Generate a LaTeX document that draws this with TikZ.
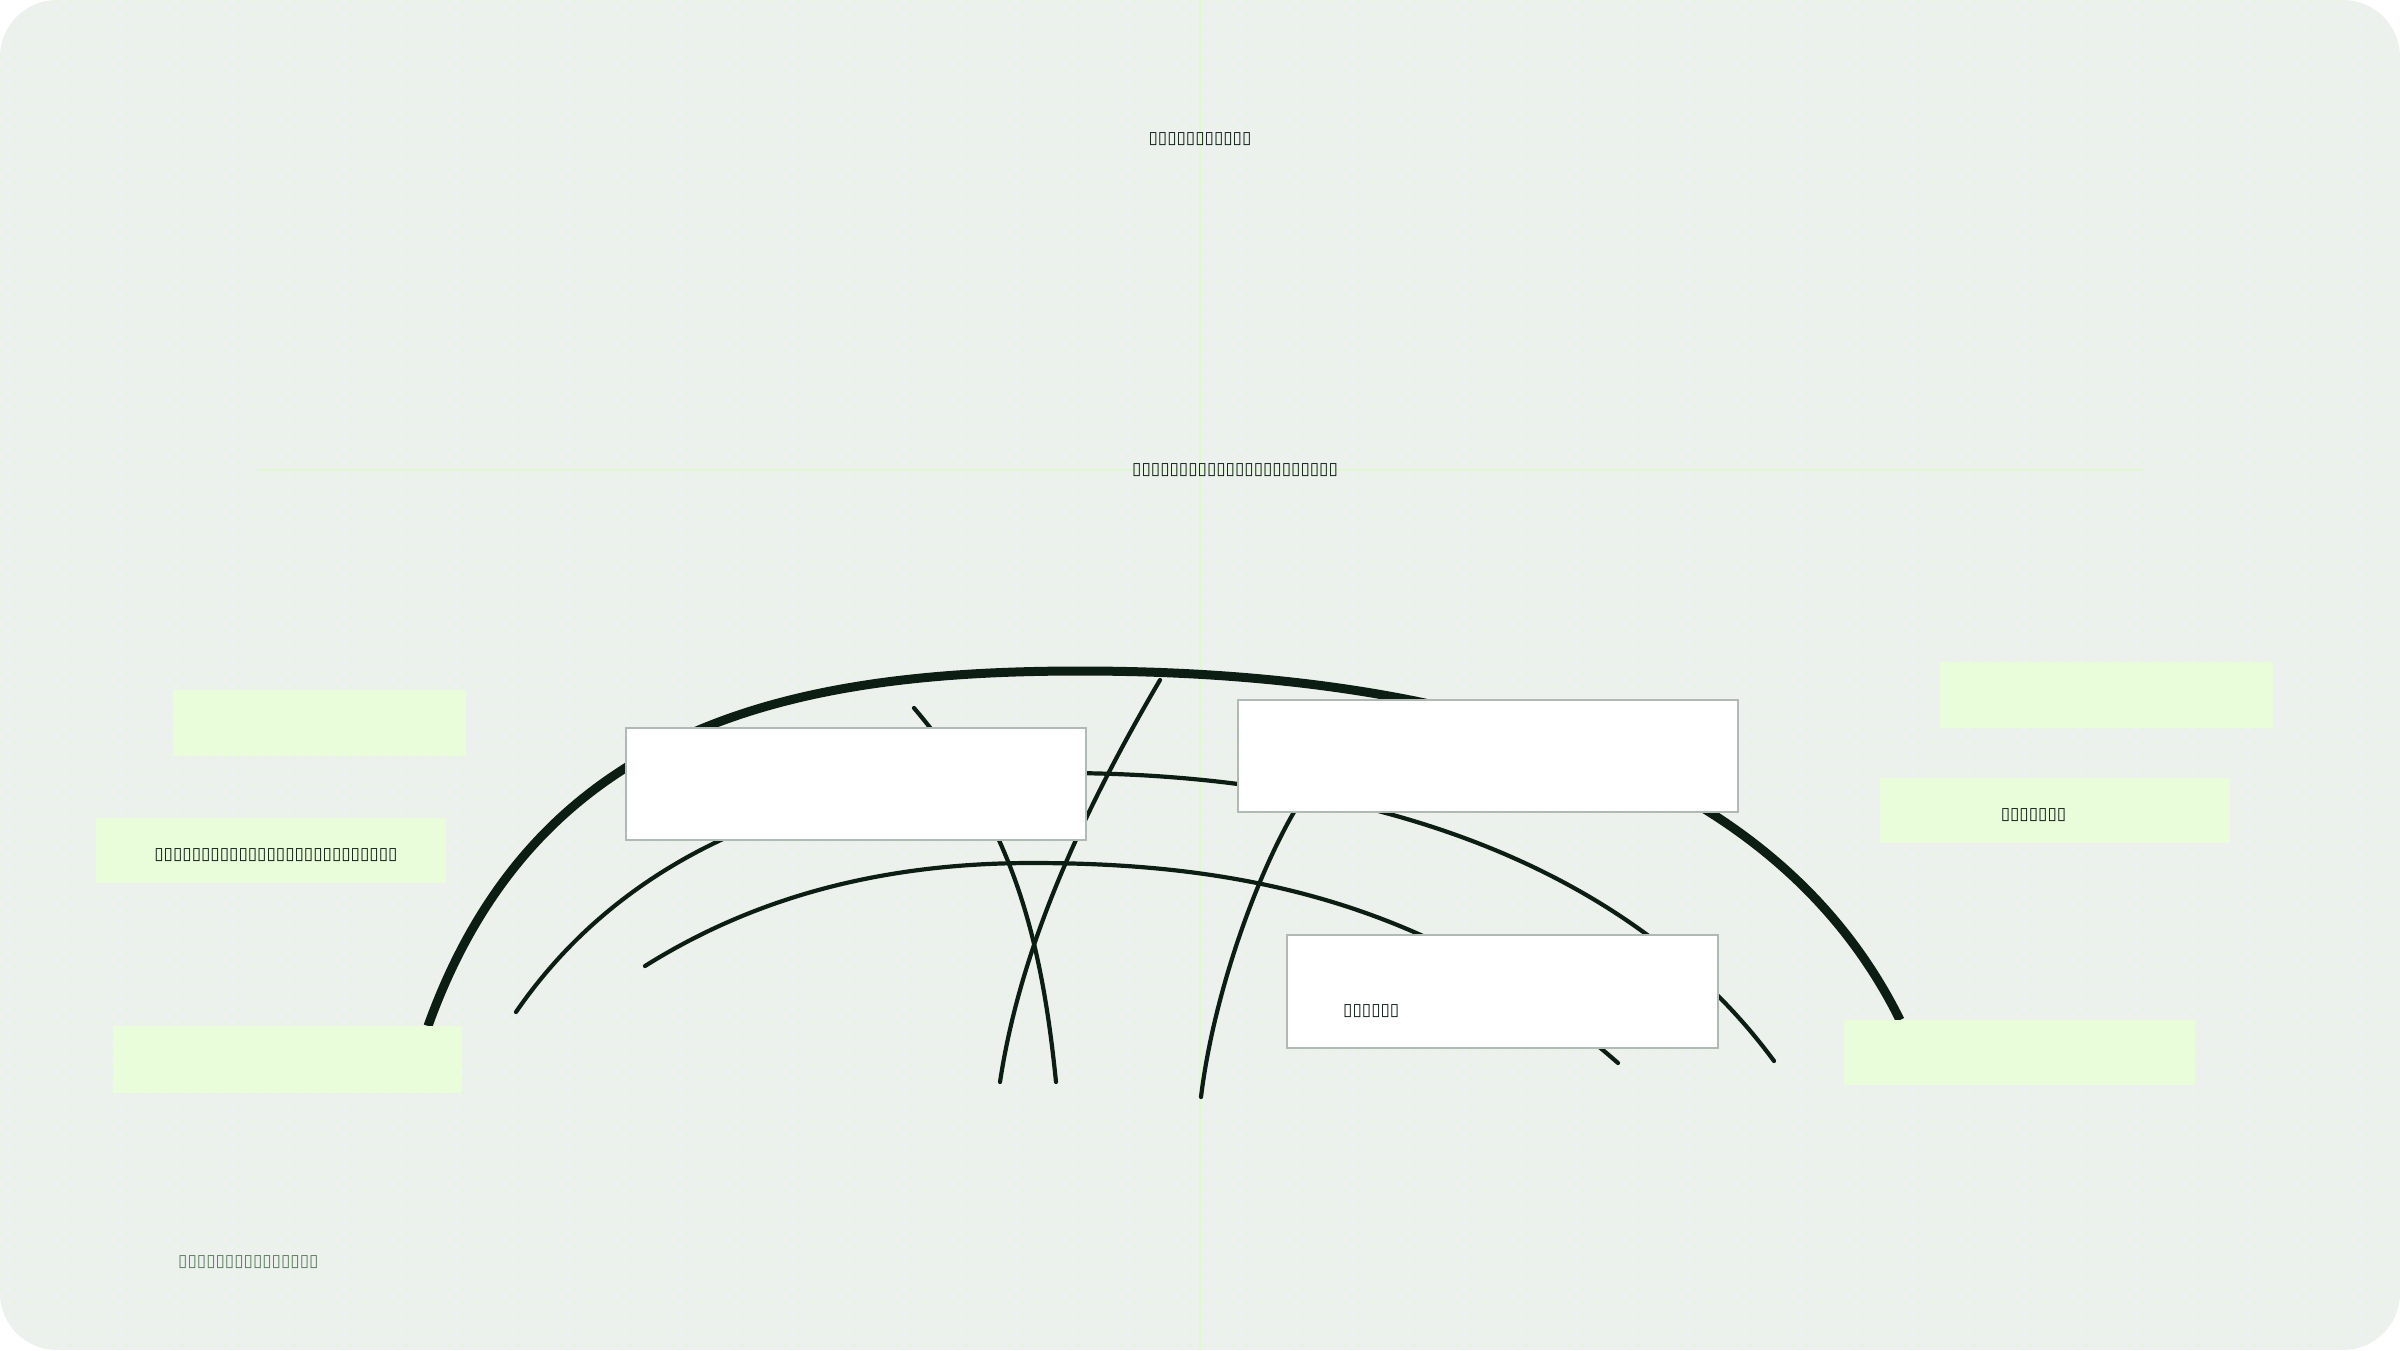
\documentclass[tikz,border=0pt]{standalone}
\usepackage{fontspec}
\setmainfont{DejaVu Sans}
\usetikzlibrary{positioning}

\definecolor{paper}{HTML}{EDF1EE}
\definecolor{dotgreen}{HTML}{E1F6D2}
\definecolor{guide}{HTML}{E0F8CE}
\definecolor{lime}{HTML}{EAFDDA}
\definecolor{ink}{HTML}{0C1D14}
\definecolor{frame}{HTML}{B1B9B5}
\definecolor{mute}{HTML}{587A5C}

\tikzset{
  limebox/.style={fill=lime, inner sep=0pt},
  whitebox/.style={fill=white, draw=frame, line width=2pt, inner sep=0pt},
  tofu/.style={text=ink, font=\fontsize{17}{19}\selectfont, inner sep=0pt},
  band/.style={draw=ink, line width=4.2pt, line cap=round},
}

\begin{document}
\begin{tikzpicture}[x=1pt, y=-1pt]
\useasboundingbox (0,0) rectangle (2400,1350);
\fill[white] (0,0) rectangle (2400,1350);
\fill[paper, rounded corners=57pt] (0,0) rectangle (2400,1350);
% dot grid
\begin{scope}
\clip[rounded corners=57pt] (0,0) rectangle (2400,1350);
\foreach \y in {0, 14, ..., 1350} {
  \draw[dotgreen, line width=2pt, dash pattern=on 2pt off 12pt] (0.3, \y+1.3) -- (2400, \y+1.3);
}
\end{scope}
% guides
\draw[guide, line width=1.5pt] (1200,0) -- (1200,1350);
\draw[guide, line width=1.5pt] (257,470) -- (2143,470);
\node[tofu] (title) at (1200,139) {▯▯▯▯▯▯▯▯▯▯▯};
\node[tofu, anchor=west] (subtitle) at (1132,470) {▯▯▯▯▯▯▯▯▯▯▯▯▯▯▯▯▯▯▯▯▯▯};
% outer band
\draw[band, line width=9pt, line cap=butt] (428,1026)
  .. controls (536,725) and (790,671) .. (1080,671)
  .. controls (1430,671) and (1767,751) .. (1900,1020);
% middle bands
\draw[band] (516,1012)
  .. controls (624,855) and (810,773) .. (1060,773)
  .. controls (1360,773) and (1626,860) .. (1774,1061);
\draw[band] (645,966)
  .. controls (755,897) and (882,863) .. (1032,863)
  .. controls (1232,863) and (1430,898) .. (1618,1063);
% crossing spokes
\draw[band] (914,708) .. controls (1011,822) and (1041,933) .. (1056,1082);
\draw[band] (1160,680) .. controls (1069,835) and (1018,963) .. (1000,1082);
\draw[band] (1305,793) -- (1294,812) .. controls (1254,881) and (1213,998) .. (1201,1097);
% left boxes
\node[limebox, minimum width=293pt, minimum height=66pt] (leftA) at (319.5,723) {};
\node[limebox, minimum width=350pt, minimum height=65pt] (leftB) at (271,850.5) {};
\node[tofu] (leftBtext) at (276,855) {▯▯▯▯▯▯▯▯▯▯▯▯▯▯▯▯▯▯▯▯▯▯▯▯▯▯};
\node[limebox, minimum width=349pt, minimum height=67pt] (leftC) at (287.5,1059.5) {};
% right boxes
\node[limebox, minimum width=333pt, minimum height=66pt] (rightA) at (2106.5,695) {};
\node[limebox, minimum width=350pt, minimum height=65pt] (rightB) at (2055,810.5) {};
\node[tofu] (rightBtext) at (2033.5,815) {▯▯▯▯▯▯▯};
\node[limebox, minimum width=351pt, minimum height=65pt] (rightC) at (2019.5,1052.5) {};
% cards
\node[whitebox, minimum width=460pt, minimum height=112pt] (cardA) at (856,784) {};
\node[whitebox, minimum width=500pt, minimum height=112pt] (cardB) at (1488,756) {};
\node[whitebox, minimum width=431pt, minimum height=113pt] (cardC) at (1502.5,991.5) {};
\node[tofu, anchor=west] (cardCtext) at (1343,1011) {▯▯▯▯▯▯};
% footer
\node[tofu, text=mute, anchor=west] (footer) at (178,1262) {▯▯▯▯▯▯▯▯▯▯▯▯▯▯▯};
\end{tikzpicture}
\end{document}
